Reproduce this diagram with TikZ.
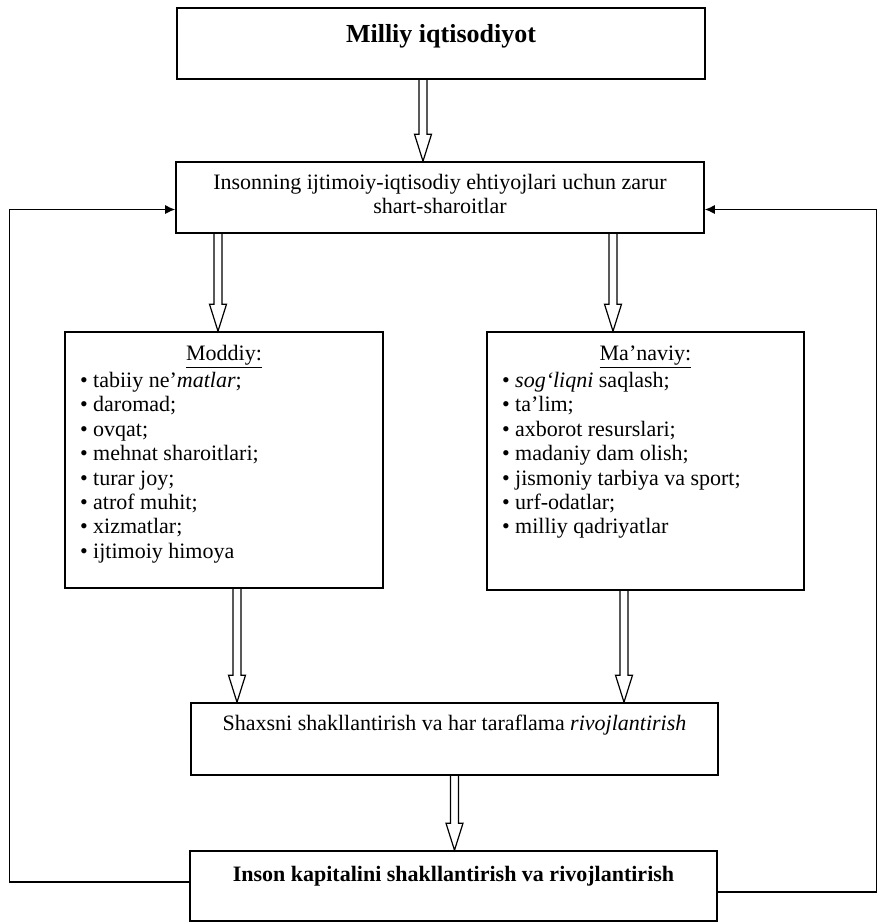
\documentclass[tikz,border=0pt]{standalone}
\usepackage{fontspec}
\setmainfont{Liberation Serif}
\usetikzlibrary{arrows.meta,calc}

\begin{document}
\begin{tikzpicture}[x=0.5pt, y=-0.5pt,
	box/.style={draw, line width=0.8pt, inner sep=0pt, font=\fontsize{11}{12.2}\selectfont},
	hollow/.style={line width=0.6pt, to path={let \p1=(\tikztostart), \p2=(\tikztotarget) in
		(\x1-2pt,\y1) -- (\x1-2pt,\y2+13.5pt) -- (\x1-4.25pt,\y2+13.5pt) -- (\x1,\y2)
		-- (\x1+4.25pt,\y2+13.5pt) -- (\x1+2pt,\y2+13.5pt) -- (\x1+2pt,\y1)}},
	feedback/.style={line width=0.6pt, -{Latex[length=5pt, width=4.5pt]}}]
	\useasboundingbox (0,0) rectangle (880,923);

	\node[box] at (441, 43.5) (milliy) {\parbox[c][35.5pt][t]{264pt}{\centering\fontsize{13}{15}\selectfont\bfseries\rule{0pt}{17pt}Milliy iqtisodiyot}};
	\node[box] at (440, 197.5) (ehtiyoj) {\parbox[c][35.5pt][t]{264pt}{\centering\rule{0pt}{13.75pt}Insonning ijtimoiy-iqtisodiy ehtiyojlari uchun zarur\\shart-sharoitlar}};

	\node[box] at (224, 460) (moddiy) {\parbox[c][128pt][t]{159pt}{\centering\rule{0pt}{14pt}\underline{Moddiy:}\par\vspace{1.5pt}
		\raggedright\leftskip=7.5pt
		• tabiiy ne’\textit{matlar};\\
		• daromad;\\
		• ovqat;\\
		• mehnat sharoitlari;\\
		• turar joy;\\
		• atrof muhit;\\
		• xizmatlar;\\
		• ijtimoiy himoya}};
	\node[box] at (645.5, 461) (manaviy) {\parbox[c][129pt][t]{158.5pt}{\centering\rule{0pt}{14pt}\underline{Ma’naviy:}\par\vspace{1.5pt}
		\raggedright\leftskip=7.5pt
		• \textit{sog‘liqni} saqlash;\\
		• ta’lim;\\
		• axborot resurslari;\\
		• madaniy dam olish;\\
		• jismoniy tarbiya va sport;\\
		• urf-odatlar;\\
		• milliy qadriyatlar}};

	\node[box] at (454.5, 739) (shaxs) {\parbox[c][36pt][t]{263.5pt}{\centering\rule{0pt}{13.5pt}Shaxsni shakllantirish va har taraflama \textit{rivojlantirish}}};
	\node[box] at (453.5, 886) (kapital) {\parbox[c][35pt][t]{263.5pt}{\centering\bfseries\rule{0pt}{15pt}Inson kapitalini shakllantirish va rivojlantirish}};

	\path
	([xshift=-9pt]milliy.south) edge[hollow] (ehtiyoj.north)
	([xshift=-111pt]ehtiyoj.south) edge[hollow] (moddiy.north)
	([xshift=86.5pt]ehtiyoj.south) edge[hollow] (manaviy.north)
	([xshift=6.5pt]moddiy.south) edge[hollow] (shaxs.north)
	([xshift=-10.75pt]manaviy.south) edge[hollow] (shaxs.north)
	(shaxs.south) edge[hollow] (kapital.north);

	\draw[feedback] ([yshift=2pt]kapital.west) -- ++(-180,0) |- ([yshift=-6pt]ehtiyoj.west);
	\draw[feedback] ([yshift=-3pt]kapital.east) -- ++(159,0) |- ([yshift=-6pt]ehtiyoj.east);
\end{tikzpicture}
\end{document}
